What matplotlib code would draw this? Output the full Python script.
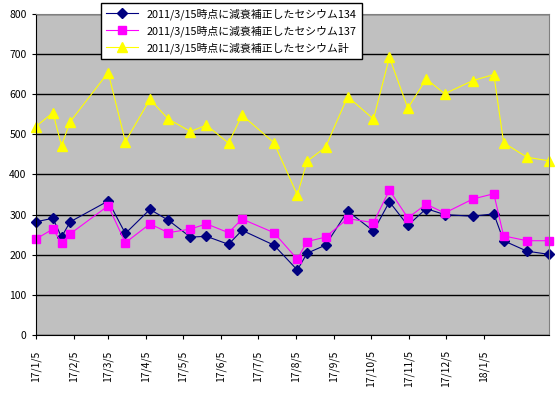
import numpy as np
import pandas as pd
import matplotlib
matplotlib.use("Agg")
import matplotlib.pyplot as plt

plt.rcParams['font.family'] = ['Noto Sans CJK JP', 'DejaVu Sans']

# data
dates = pd.to_datetime([
    "2017-01-05", "2017-01-19", "2017-01-26", "2017-02-02", "2017-03-05",
    "2017-03-19", "2017-04-08", "2017-04-23", "2017-05-11", "2017-05-24",
    "2017-06-11", "2017-06-22", "2017-07-18", "2017-08-06", "2017-08-14",
    "2017-08-29", "2017-09-16", "2017-10-07", "2017-10-20", "2017-11-04",
    "2017-11-19", "2017-12-04", "2017-12-27", "2018-01-13", "2018-01-21",
    "2018-02-09", "2018-02-27",
])
cs134 = [282, 291, 244, 282, 334, 253, 313, 286, 244, 246, 226, 261, 224,
         162, 204, 224, 309, 259, 332, 273, 315, 300, 296, 302, 235, 209, 201]
cs137 = [239, 264, 230, 252, 322, 230, 277, 255, 264, 277, 255, 289, 255,
         189, 233, 244, 290, 280, 361, 292, 326, 304, 339, 352, 247, 235, 235]
cs_total = [519, 554, 472, 531, 654, 482, 587, 538, 507, 523, 478, 548, 479,
            349, 433, 468, 594, 538, 692, 565, 638, 601, 634, 649, 479, 443, 434]

labels = ["2011/3/15時点に減衰補正したセシウム134",
          "2011/3/15時点に減衰補正したセシウム137",
          "2011/3/15時点に減衰補正したセシウム計"]

tick_dates = pd.date_range("2017-01-01", periods=13, freq="MS") + pd.Timedelta(days=4)
tick_labels = ["17/1/5", "17/2/5", "17/3/5", "17/4/5", "17/5/5", "17/6/5", "17/7/5",
               "17/8/5", "17/9/5", "17/10/5", "17/11/5", "17/12/5", "18/1/5"]

fig = plt.figure(figsize=(5.58, 3.97), dpi=100)
ax = fig.add_axes([0.064, 0.156, 0.92, 0.809])
ax.set_facecolor('#C0C0C0')

ax.plot(dates, cs134, color='#000080', marker='D', markersize=5, linewidth=0.8,
        label=labels[0], clip_on=False)
ax.plot(dates, cs137, color='#FF00FF', marker='s', markersize=6, linewidth=0.8,
        label=labels[1], clip_on=False)
ax.plot(dates, cs_total, color='#FFFF00', marker='^', markersize=7.5, linewidth=0.8,
        label=labels[2], clip_on=False)

ax.set_ylim(0, 800)
ax.set_yticks(np.arange(0, 801, 100))
ax.set_xlim(dates[0], dates[-1])
ax.set_xticks(tick_dates)
ax.set_xticklabels(tick_labels, rotation=90, fontsize=7.5)
ax.tick_params(axis='y', labelsize=7.5, length=3, direction='out')
ax.tick_params(axis='x', length=3, direction='out', pad=8)

ax.yaxis.grid(True, color='black', linewidth=1)
ax.set_axisbelow(True)
for side in ['top', 'right']:
    ax.spines[side].set_color('#808080')
for side in ['left', 'bottom']:
    ax.spines[side].set_color('black')

leg = ax.legend(loc='upper left', bbox_to_anchor=(0.116, 1.05), fontsize=7.8,
                frameon=True, fancybox=False, edgecolor='black', framealpha=1,
                borderpad=0.45, labelspacing=0.5, handlelength=3.0)
leg.get_frame().set_linewidth(1)
leg.set_zorder(5)

fig.savefig("out.png", dpi=100)
